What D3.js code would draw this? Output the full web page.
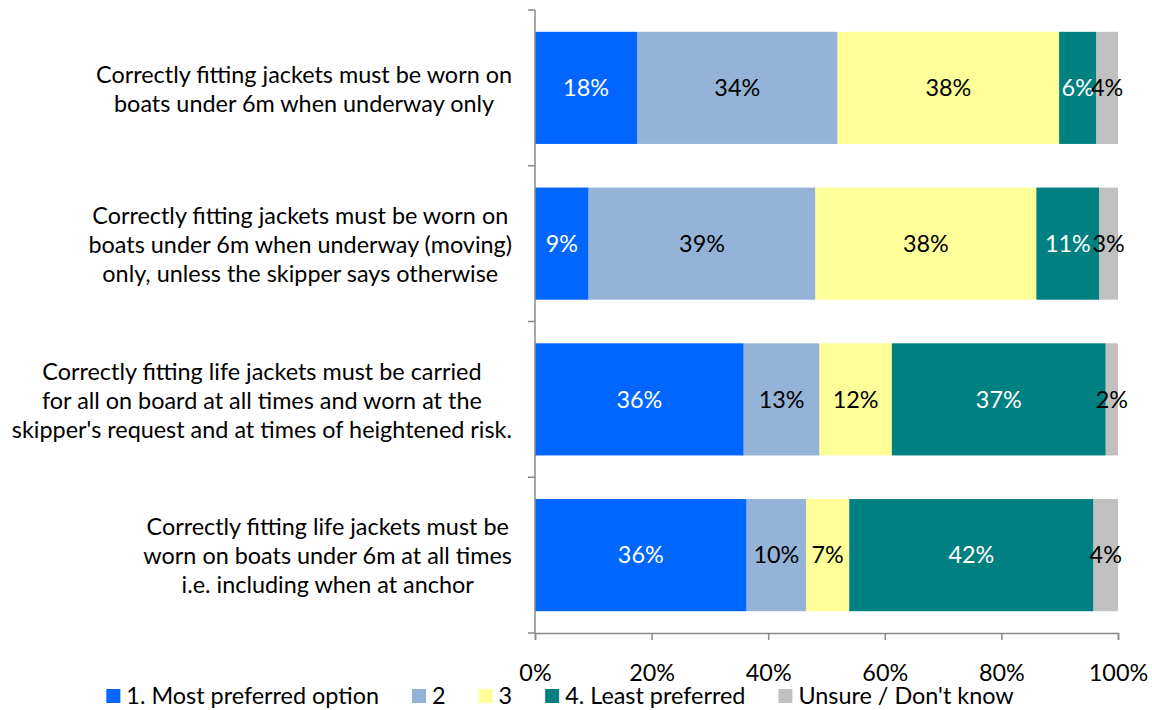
<!DOCTYPE html>
<html>
<head>
<meta charset="utf-8">
<script src="https://cdn.jsdelivr.net/npm/d3@7"></script>
<style>
  body { margin: 0; background: #fff; }
  svg text { font-family: Lato, "Open Sans", sans-serif; }
</style>
</head>
<body>
<svg class="js-chart"></svg>
<script>
// categories, top to bottom (each entry is the wrapped label lines)
const categories = [
    ['Correctly fitting jackets must be worn on', 'boats under 6m when underway only'],
    ['Correctly fitting jackets must be worn on', 'boats under 6m when underway (moving)', 'only, unless the skipper says otherwise'],
    ['Correctly fitting life jackets must be carried', 'for all on board at all times and worn at the', "skipper's request and at times of heightened risk."],
    ['Correctly fitting life jackets must be', 'worn on boats under 6m at all times', 'i.e. including when at anchor'],
];

const seriesNames = ['1. Most preferred option', '2', '3', '4. Least preferred', "Unsure / Don't know"];

// percent values per series, one per category
const mostPreferred = [17.5, 9.2, 35.8, 36.3];
const second = [34.4, 38.9, 13.0, 10.2];
const third = [38.0, 37.9, 12.4, 7.4];
const leastPreferred = [6.4, 10.8, 36.7, 41.9];
const unsure = [3.7, 3.2, 2.1, 4.2];

const tickValues = [0, 20, 40, 60, 80, 100];

const colors = ['#0066ff', '#95b3d7', '#ffff99', '#008080', '#c0c0c0'];
const labelColors = ['#fff', '#000', '#000', '#fff', '#000'];

(() => {
    const W = 1152, H = 710;
    const fontSize = 23.4;
    const axisColor = '#898989';

    const svg = d3.select('.js-chart')
        .attr('width', W)
        .attr('height', H);

    const values = [mostPreferred, second, third, leastPreferred, unsure];
    const keys = d3.range(seriesNames.length);
    const rows = categories.map((c, i) => {
        const r = { idx: i };
        keys.forEach(k => r[k] = values[k][i]);
        return r;
    });
    const stacked = d3.stack().keys(keys)(rows);

    const x = d3.scaleLinear().domain([0, 100]).range([535, 1118]);
    const y = d3.scaleBand()
        .domain(d3.range(categories.length))
        .range([10, 633])
        .paddingInner(0.28)
        .paddingOuter(0.14);

    // bars
    const layer = svg.append('g').selectAll('g')
        .data(stacked)
        .join('g')
        .attr('fill', d => colors[d.key]);

    layer.selectAll('rect')
        .data(d => d)
        .join('rect')
        .attr('x', d => x(d[0]))
        .attr('y', d => y(d.data.idx))
        .attr('width', d => x(d[1]) - x(d[0]))
        .attr('height', y.bandwidth());

    // data labels
    const labels = svg.append('g');
    stacked.forEach(s => {
        labels.selectAll(null)
            .data(s)
            .join('text')
            .attr('x', d => (x(d[0]) + x(d[1])) / 2)
            .attr('y', d => y(d.data.idx) + y.bandwidth() / 2)
            .attr('dy', '0.35em')
            .attr('text-anchor', 'middle')
            .style('font-size', fontSize + 'px')
            .attr('fill', labelColors[s.key])
            .text(d => Math.round(d[1] - d[0]) + '%');
    });

    // y axis line with ticks at band boundaries
    const yAxis = svg.append('g').attr('stroke', axisColor).attr('stroke-width', 1.5);
    yAxis.append('line')
        .attr('x1', x(0)).attr('x2', x(0))
        .attr('y1', 10).attr('y2', 633);
    yAxis.selectAll('.tick')
        .data(d3.range(categories.length + 1))
        .join('line')
        .attr('x1', x(0) - 7).attr('x2', x(0))
        .attr('y1', i => 10 + i * (623 / categories.length))
        .attr('y2', i => 10 + i * (623 / categories.length));

    // x axis
    const xAxis = svg.append('g')
        .attr('transform', 'translate(0,633)')
        .call(d3.axisBottom(x).tickValues(tickValues).tickSize(7).tickFormat(d => d + '%'));
    xAxis.select('.domain').attr('stroke', axisColor).attr('stroke-width', 1.5);
    xAxis.selectAll('.tick line').attr('stroke', axisColor).attr('stroke-width', 1.5);
    xAxis.selectAll('.tick text')
        .attr('y', 40)
        .attr('dy', '0.35em')
        .style('font-size', fontSize + 'px')
        .style('font-family', 'Lato, sans-serif')
        .attr('fill', '#000');

    // category labels: block right edge near the axis, lines centered
    const lineH = 29;
    categories.forEach((lines, i) => {
        const cy = y(i) + y.bandwidth() / 2 + 1;
        const t = svg.append('text')
            .attr('text-anchor', 'middle')
            .style('font-size', fontSize + 'px')
            .attr('fill', '#000');
        const spans = t.selectAll('tspan')
            .data(lines)
            .join('tspan')
            .attr('y', (d, j) => cy + (j - (lines.length - 1) / 2) * lineH)
            .attr('dy', '0.35em')
            .text(d => d);
        const maxW = d3.max(spans.nodes(), n => n.getComputedTextLength());
        spans.attr('x', x(0) - 23 - maxW / 2);
    });

    // legend
    const legend = svg.append('g');
    const sq = 14, gapText = 6, gapItem = 33;
    let cx = 0;
    seriesNames.forEach((name, k) => {
        const g = legend.append('g');
        g.append('rect')
            .attr('x', 0).attr('y', -sq / 2)
            .attr('width', sq).attr('height', sq)
            .attr('fill', colors[k]);
        const tx = g.append('text')
            .attr('x', sq + gapText)
            .attr('dy', '0.35em')
            .style('font-size', fontSize + 'px')
            .attr('fill', '#000')
            .text(name);
        const w = sq + gapText + tx.node().getComputedTextLength();
        g.attr('transform', `translate(${cx},0)`);
        cx += w + gapItem;
    });
    const total = cx - gapItem;
    legend.attr('transform', `translate(${560 - total / 2},696)`);
})();
</script>
</body>
</html>
